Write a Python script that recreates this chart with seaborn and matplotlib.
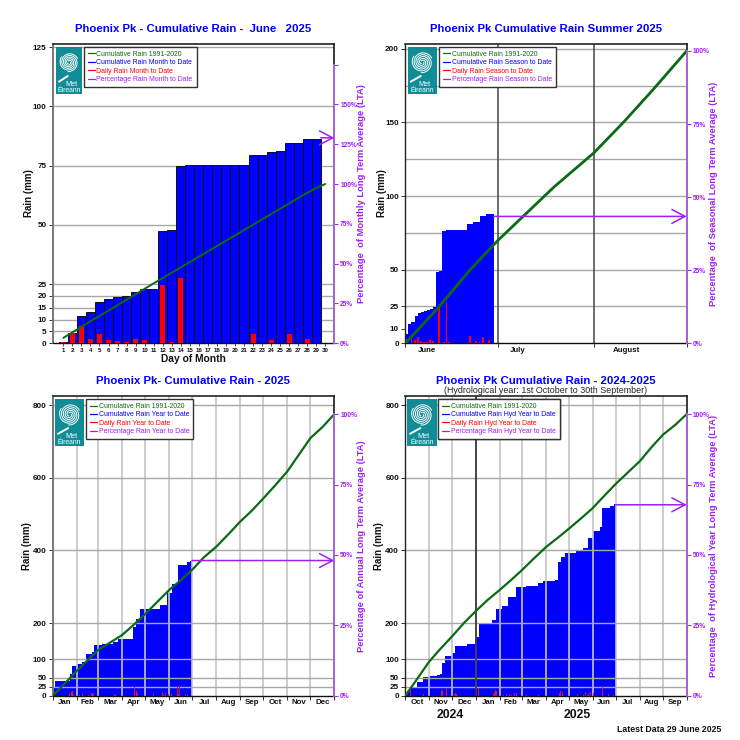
import numpy as np
import matplotlib
matplotlib.use("Agg")
import matplotlib.pyplot as plt
from matplotlib.lines import Line2D
from matplotlib.patches import Rectangle
import seaborn as sns

sns.set_theme(style="white")
plt.rcParams['font.family'] = ['Liberation Sans', 'DejaVu Sans']

GREEN = '#0b6b12'; BLUE = '#0000ff'; RED = '#ff0000'; PURPLE = '#a020f0'; LPURPLE = '#b468e4'; TEAL = '#0f8c96'

# ---- June panel
june_days = list(range(1, 30))
june_cum = [0.4,4.2,11.5,13.3,17.3,18.5,19.5,19.8,21.7,22.9,23.0,47.3,47.6,75.0,75.2,75.2,75.2,75.2,75.2,75.2,75.2,
            79.3,79.3,80.8,81.0,84.7,84.7,86.4,86.4]
june_daily_days = [1,2,3,4,5,6,7,8,9,10,12,13,14,15,22,24,25,26,28]
june_daily = [0.4,4.2,7.5,1.8,4.0,1.4,1.0,0.4,2.0,1.2,24.5,0.6,27.4,0.3,4.0,1.5,0.3,3.9,1.7]
june_lta_days = list(range(1, 31))
june_lta = [2.3,4.6,7.0,9.3,11.5,13.8,16.1,18.4,20.7,23.0,25.3,27.5,29.8,32.0,34.3,36.5,38.8,41.0,43.3,45.5,47.8,
            50.0,52.3,54.5,56.8,59.0,61.3,63.5,65.5,67.2]
june_pct = 129

# ---- Summer panel
summer_days = list(range(0, 30))
summer_cum = [6,13,14.5,18.5,20.4,21.3,22,22.3,23.3,24.7,48.6,48.9,76.5,76.7,76.7,76.7,76.7,76.7,76.7,76.7,81,81,
              82.4,82.6,86.4,86.4,88,88,88,88]
summer_daily_days = [0.5,2,3,4,5,6,7,8,9,10,11,12.5,13.3,14,20.8,22.8,24,25,27]
summer_daily = [3,6.5,2.5,4.5,1.8,1.2,0.8,2.3,1.8,0.2,25,0.8,28,0.8,5,1.7,0.8,4,2]
summer_lta_days = [0,11,21,30,38,48,61,70.5,80,91]
summer_lta = [0,25,50,70,86,106,129.4,150,172,198.6]
summer_pct = 43.4

# ---- Calendar year panel
year_days = [0,1,3,22.5,25.5,32,37.6,43,50.5,53.6,63.5,78.6,85,103.7,104.5,108,113,139,147.7,154,163,173.7,178,180.6]
year_cum = [5,20,40,61,82,87,94,115,121,140,143,148,155,158,190,210,238,250,282,307,360,369,372,372]
year_daily_days = [3,22,24,25,26,27,35,39,43,46,50,52,53,65,80,81,106,108,109,110,112,131,139,142,144,146,148,150,152,154,162,163,164,172,175,178]
year_daily = [20,5,10,15,12,5,3,4,6,3,8,8,4,3,4,2,25,8,12,8,10,4,2,10,3,7,10,5,8,4,24,4,27,4,2,3]
year_lta_days = [0,15,31,45,59,75,90,105,120,135,151,166,181,196,212,228,243,258,273,288,304,319,334,350,365]
year_lta = [0,32,68,97,126,147,167,195,225,257,291,318,347,381,410,445,479,509,543,578,617,663,709,740,775]
year_pct = 48
year_edges = [0,31,59,90,120,151,181,212,243,273,304,334,365]
year_months = ['Jan','Feb','Mar','Apr','May','Jun','Jul','Aug','Sep','Oct','Nov','Dec']

# ---- Hydrological year panel
hyd_days = [0,2,6,14.7,23,32,40.6,45,47,52,61,65,79.5,90,95,112.7,118,125,133.5,144,157,172,179,194,198,202.6,207,222,230.7,237,243.7,252,255.7,265,271,273]
hyd_cum = [3,12,25,38,52,54,56,61,89,110,117,136,141,162,197,208,239,248,271,298,303,309,316,318,369,381,394,398,406,433,452,464,516,522,527,527]
hyd_daily_days = [7,15,24,47,48,49,53,64,65,66,91,97] + [d + 92 for d in year_daily_days]
hyd_daily = [20,8,6,12,17,10,20,5,7,5,18,26] + year_daily
hyd_lta_days = [0,15,31,46,61,76,92,107,123,137,151,166,183,198,213,228,243,258,273,288,304,319,334,350,365]
hyd_lta = [0,45,94,130,164,200,234,264,292,318,345,376,410,435,461,488,516,550,583,613,645,683,718,745,775]
hyd_pct = 67.8
hyd_edges = [0,31,61,92,123,151,182,212,243,273,304,334,365]
hyd_months = ['Oct','Nov','Dec','Jan','Feb','Mar','Apr','May','Jun','Jul','Aug','Sep']

W = 740.0
fig = plt.figure(figsize=(7.4, 7.4), dpi=100, facecolor='white')

def make_axes(l, r, t, b):
    return fig.add_axes([l/W, 1-b/W, (r-l)/W, (b-t)/W])

def style(ax, ylim, yticks, grid, lta100, pct_ticks, pct_labels, pct_top, title, rlabel, ylab_x, rlab_x, left_c='#222222', left_w=1.0):
    ax.set_ylim(0, ylim)
    ax.set_yticks(yticks)
    ax.set_yticklabels([str(v) for v in yticks], fontsize=5.9, fontweight='bold', color='#111111')
    ax.tick_params(axis='y', length=3, width=0.7, pad=1.5, left=True, color='#333333')
    for v in grid:
        ax.axhline(v, color='#a8a8a8', lw=1.0, zorder=ax_grid_z[ax])
    ax.spines['top'].set_color('#222222'); ax.spines['top'].set_linewidth(1.2)
    ax.spines['bottom'].set_color('#111111'); ax.spines['bottom'].set_linewidth(1.0)
    ax.spines['left'].set_color(left_c); ax.spines['left'].set_linewidth(left_w)
    ax.spines['right'].set_color('#222222')
    ax.set_ylabel('Rain (mm)', fontsize=7, fontweight='bold', color='#111111', va='center')
    box = ax.get_position()
    ax.yaxis.set_label_coords((ylab_x/W - box.x0)/box.width, 0.5)
    ax.set_title(title, color=BLUE, fontsize=8.2, fontweight='bold', pad=title_pad[ax])
    ax2 = ax.twinx()
    ax2.set_ylim(0, ylim/lta100*100)
    ax2.set_yticks(pct_ticks)
    ax2.set_yticklabels(pct_labels, fontsize=4.8, fontweight='bold', color=PURPLE)
    ax2.tick_params(axis='y', right=True, length=3, width=0.7, color=PURPLE, pad=1.2)
    for s in ax2.spines.values():
        s.set_visible(False)
    ax2.spines['right'].set_visible(True)
    ax2.spines['right'].set_color(LPURPLE)
    ax2.spines['right'].set_linewidth(1.3)
    ax2.spines['right'].set_bounds(0, pct_top)
    ax2.set_ylabel(rlabel, fontsize=6.75, fontweight='bold', color=PURPLE, va='center')
    ax2.yaxis.set_label_coords((rlab_x/W - box.x0)/box.width, 0.5)
    ax2.grid(False)
    return ax2

def arrow(ax2, x0, x1, pct):
    ax2.annotate('', xy=(x1, pct), xytext=(x0, pct), annotation_clip=False,
                 arrowprops=dict(arrowstyle='->,head_length=0.95,head_width=0.5', color=PURPLE, lw=1.1,
                                 mutation_scale=10, shrinkA=0, shrinkB=0))

def month_axis(ax, edges, names, grid_c='#c4c4c4'):
    mids = [(a+b)/2 for a, b in zip(edges[:-1], edges[1:])]
    ax.set_xlim(edges[0], edges[-1])
    ax.set_xticks(edges)
    ax.set_xticklabels([])
    ax.set_xticks(mids, minor=True)
    ax.set_xticklabels(names, minor=True, fontsize=5.7, fontweight='bold', color='#111111')
    ax.tick_params(axis='x', which='major', bottom=True, length=3, width=0.7, color='#333333')
    ax.tick_params(axis='x', which='minor', bottom=False, length=0, pad=2.5)
    for e in edges[1:-1]:
        ax.axvline(e, color=grid_c, lw=1.2, zorder=2.4)

ax_grid_z = {}; title_pad = {}

# ---------- June ----------
ax1 = make_axes(52.7, 334.3, 43.7, 343.3)
ax_grid_z[ax1] = 0.5; title_pad[ax1] = 8.5
sns.barplot(x=june_days, y=june_cum, native_scale=True, width=1.0, color=BLUE, saturation=1,
            edgecolor='#111111', linewidth=0.7, ax=ax1, zorder=2)
sns.barplot(x=june_daily_days, y=june_daily, native_scale=True, width=0.55, color=RED, saturation=1,
            linewidth=0, ax=ax1, zorder=3)
sns.lineplot(x=june_lta_days, y=june_lta, color=GREEN, lw=1.4, ax=ax1, zorder=5, errorbar=None)
ax1.set_xlim(-0.18, 31)
ax1.set_xticks(june_lta_days)
ax1.set_xticklabels([str(d) for d in june_lta_days], fontsize=4.4, fontweight='bold', color='#111111')
ax1.tick_params(axis='x', bottom=True, length=2.5, width=0.6, pad=0.8, color='#333333')
ax1.set_xlabel('Day of Month', fontsize=7.4, fontweight='bold', color='#111111', labelpad=0.5)
t1 = style(ax1, 126.4, [0,5,10,15,20,25,50,75,100,125], [5,10,15,20,25,50,75,100,125], 67.2,
           [0,25,50,75,100,125,150,175], ['0%','25%','50%','75%','100%','125%','150%',''], 175,
           'Phoenix Pk - Cumulative Rain -  June   2025', 'Percentage  of Monthly Long Term Average (LTA)',
           29, 361.5, left_c='#777777', left_w=1.4)
arrow(t1, 29.5, 31, june_pct)

# ---------- Summer ----------
ax2 = make_axes(405.3, 686.7, 43.7, 343.3)
ax_grid_z[ax2] = 0.5; title_pad[ax2] = 8.5
ax2.fill_between(summer_days[:29] + [28.7], summer_cum[:29] + [88], step='post', color=BLUE, lw=0, zorder=2)
ax2.bar(summer_daily_days, summer_daily, width=0.6, color=RED, lw=0, zorder=3, align='center')
sns.lineplot(x=summer_lta_days, y=summer_lta, color=GREEN, lw=2.0, ax=ax2, zorder=5, errorbar=None)
ax2.set_xlim(0, 91)
for v in (30, 61):
    ax2.axvline(v, color='#444444', lw=1.1, zorder=1)
ax2.set_xticks([0, 30, 61, 91])
ax2.set_xticklabels([])
ax2.set_xticks([7, 36.5, 71.5], minor=True)
ax2.set_xticklabels(['June', 'July', 'August'], minor=True, fontsize=5.7, fontweight='bold', color='#111111')
ax2.tick_params(axis='x', which='major', bottom=True, length=3, width=0.7, color='#333333')
ax2.tick_params(axis='x', which='minor', bottom=False, length=0, pad=2.5)
t2 = style(ax2, 203.5, [0,10,25,50,100,150,200], [25,50,75,100,125,150,175,200], 198.6,
           [0,25,50,75,100], ['0%','25%','50%','75%','100%'], 100,
           'Phoenix Pk Cumulative Rain Summer 2025', 'Percentage  of Seasonal Long Term Average (LTA)',
           381.7, 714)
arrow(t2, 28.7, 91, summer_pct)

# ---------- Calendar year ----------
ax3 = make_axes(52.7, 334.3, 396.3, 695.7)
ax_grid_z[ax3] = 2.4; title_pad[ax3] = 8.5
ax3.fill_between(year_days, year_cum, step='post', color=BLUE, lw=0, zorder=2)
ax3.bar(year_daily_days, year_daily, width=0.9, color='#e0102a', lw=0, zorder=3)
sns.lineplot(x=year_lta_days, y=year_lta, color=GREEN, lw=1.6, ax=ax3, zorder=5, errorbar=None)
month_axis(ax3, year_edges, year_months)
t3 = style(ax3, 824, [0,25,50,100,200,400,600,800], [25,50,100,200,400,600,800], 775,
           [0,25,50,75,100], ['0%','25%','50%','75%','100%'], 100,
           'Phoenix Pk- Cumulative Rain - 2025', 'Percentage of Annual Long Term Average (LTA)',
           26.7, 361.5, left_c='#777777', left_w=1.4)
arrow(t3, 180.6, 365, year_pct)

# ---------- Hydrological year ----------
ax4 = make_axes(405.3, 686.7, 396.3, 695.7)
ax_grid_z[ax4] = 2.4; title_pad[ax4] = 8.5
ax4.fill_between(hyd_days, hyd_cum, step='post', color=BLUE, lw=0, zorder=2)
ax4.bar(hyd_daily_days, hyd_daily, width=0.9, color='#e0102a', lw=0, zorder=3)
sns.lineplot(x=hyd_lta_days, y=hyd_lta, color=GREEN, lw=1.6, ax=ax4, zorder=5, errorbar=None)
month_axis(ax4, hyd_edges, hyd_months)
ax4.axvline(92, color='#222222', lw=1.1, zorder=4)
t4 = style(ax4, 824, [0,25,50,100,200,400,600,800], [25,50,100,200,400,600,800], 775,
           [0,25,50,75,100], ['0%','25%','50%','75%','100%'], 100,
           'Phoenix Pk Cumulative Rain - 2024-2025', 'Percentage  of Hydrological Year Long Term Average (LTA)',
           379, 714)
arrow(t4, 273, 365, hyd_pct)

# ---------- overlay in pixel coordinates ----------
ov = fig.add_axes([0, 0, 1, 1], zorder=20)
ov.set_xlim(0, W); ov.set_ylim(W, 0); ov.axis('off'); ov.patch.set_alpha(0)

def logo(x0, x1, y0, y1):
    ov.add_patch(Rectangle((x0, y0), x1-x0, y1-y0, fc=TEAL, ec='none'))
    cx, cy = (x0+x1)/2, y0 + (y1-y0)*0.33
    r = (x1-x0)*0.36
    th = np.linspace(0, 3.2*np.pi, 120)
    for k in range(3):
        rr = r*(0.15 + 0.85*th/th.max())
        ov.plot(cx + rr*np.cos(th + k*2*np.pi/3), cy + rr*np.sin(th + k*2*np.pi/3), color='white', lw=0.7, solid_capstyle='round')
    ov.plot([x0+3, x0+(x1-x0)*0.45], [y0+(y1-y0)*0.74, y0+(y1-y0)*0.62], color='white', lw=1.4)
    ov.text((x0+x1)/2 + 2, y0+(y1-y0)*0.79, 'Met', color='white', fontsize=5.2, ha='center', va='center')
    ov.text((x0+x1)/2, y0+(y1-y0)*0.92, 'Éireann', color='white', fontsize=4.9, ha='center', va='center')

def legend(x, y, word):
    labels = ['Cumulative Rain 1991-2020', f'Cumulative Rain {word} to Date', f'Daily Rain {word} to Date',
              f'Percentage Rain {word} to Date']
    cols = [GREEN, BLUE, RED, PURPLE]
    h = [Line2D([], [], color=c, lw=0.9) for c in cols]
    leg = ov.legend(h, labels, loc='upper left', bbox_to_anchor=(x, y), bbox_transform=ov.transData, fontsize=4.95,
                    labelcolor=cols, frameon=True, fancybox=False, framealpha=1, edgecolor='#333333', borderaxespad=0,
                    borderpad=0.6, labelspacing=0.2, handlelength=1.0, handletextpad=0.2)
    leg.get_frame().set_linewidth(1.0)
    ov.add_artist(leg)

logo(56, 82, 46.7, 94);       legend(84, 46.7, 'Month')
logo(407.7, 436.7, 46.7, 94); legend(439.3, 46.7, 'Season')
logo(55, 84.3, 399, 446);     legend(86.3, 399, 'Year')
logo(407, 436.7, 399, 446);   legend(438.3, 399, 'Hyd Year')

ov.text(546, 390.5, '(Hydrological year: 1st October to 30th September)', fontsize=6.4, ha='center', va='center', color='#222222')
ov.text(450.7, 715, '2024', fontsize=8.8, fontweight='bold', ha='center', va='center', color='#111111')
ov.text(577.7, 715, '2025', fontsize=8.8, fontweight='bold', ha='center', va='center', color='#111111')
ov.text(721, 729, 'Latest Data 29 June 2025', fontsize=6.3, fontweight='bold', ha='right', va='center', color='#111111')

fig.savefig('out.png', dpi=100, facecolor='white')
